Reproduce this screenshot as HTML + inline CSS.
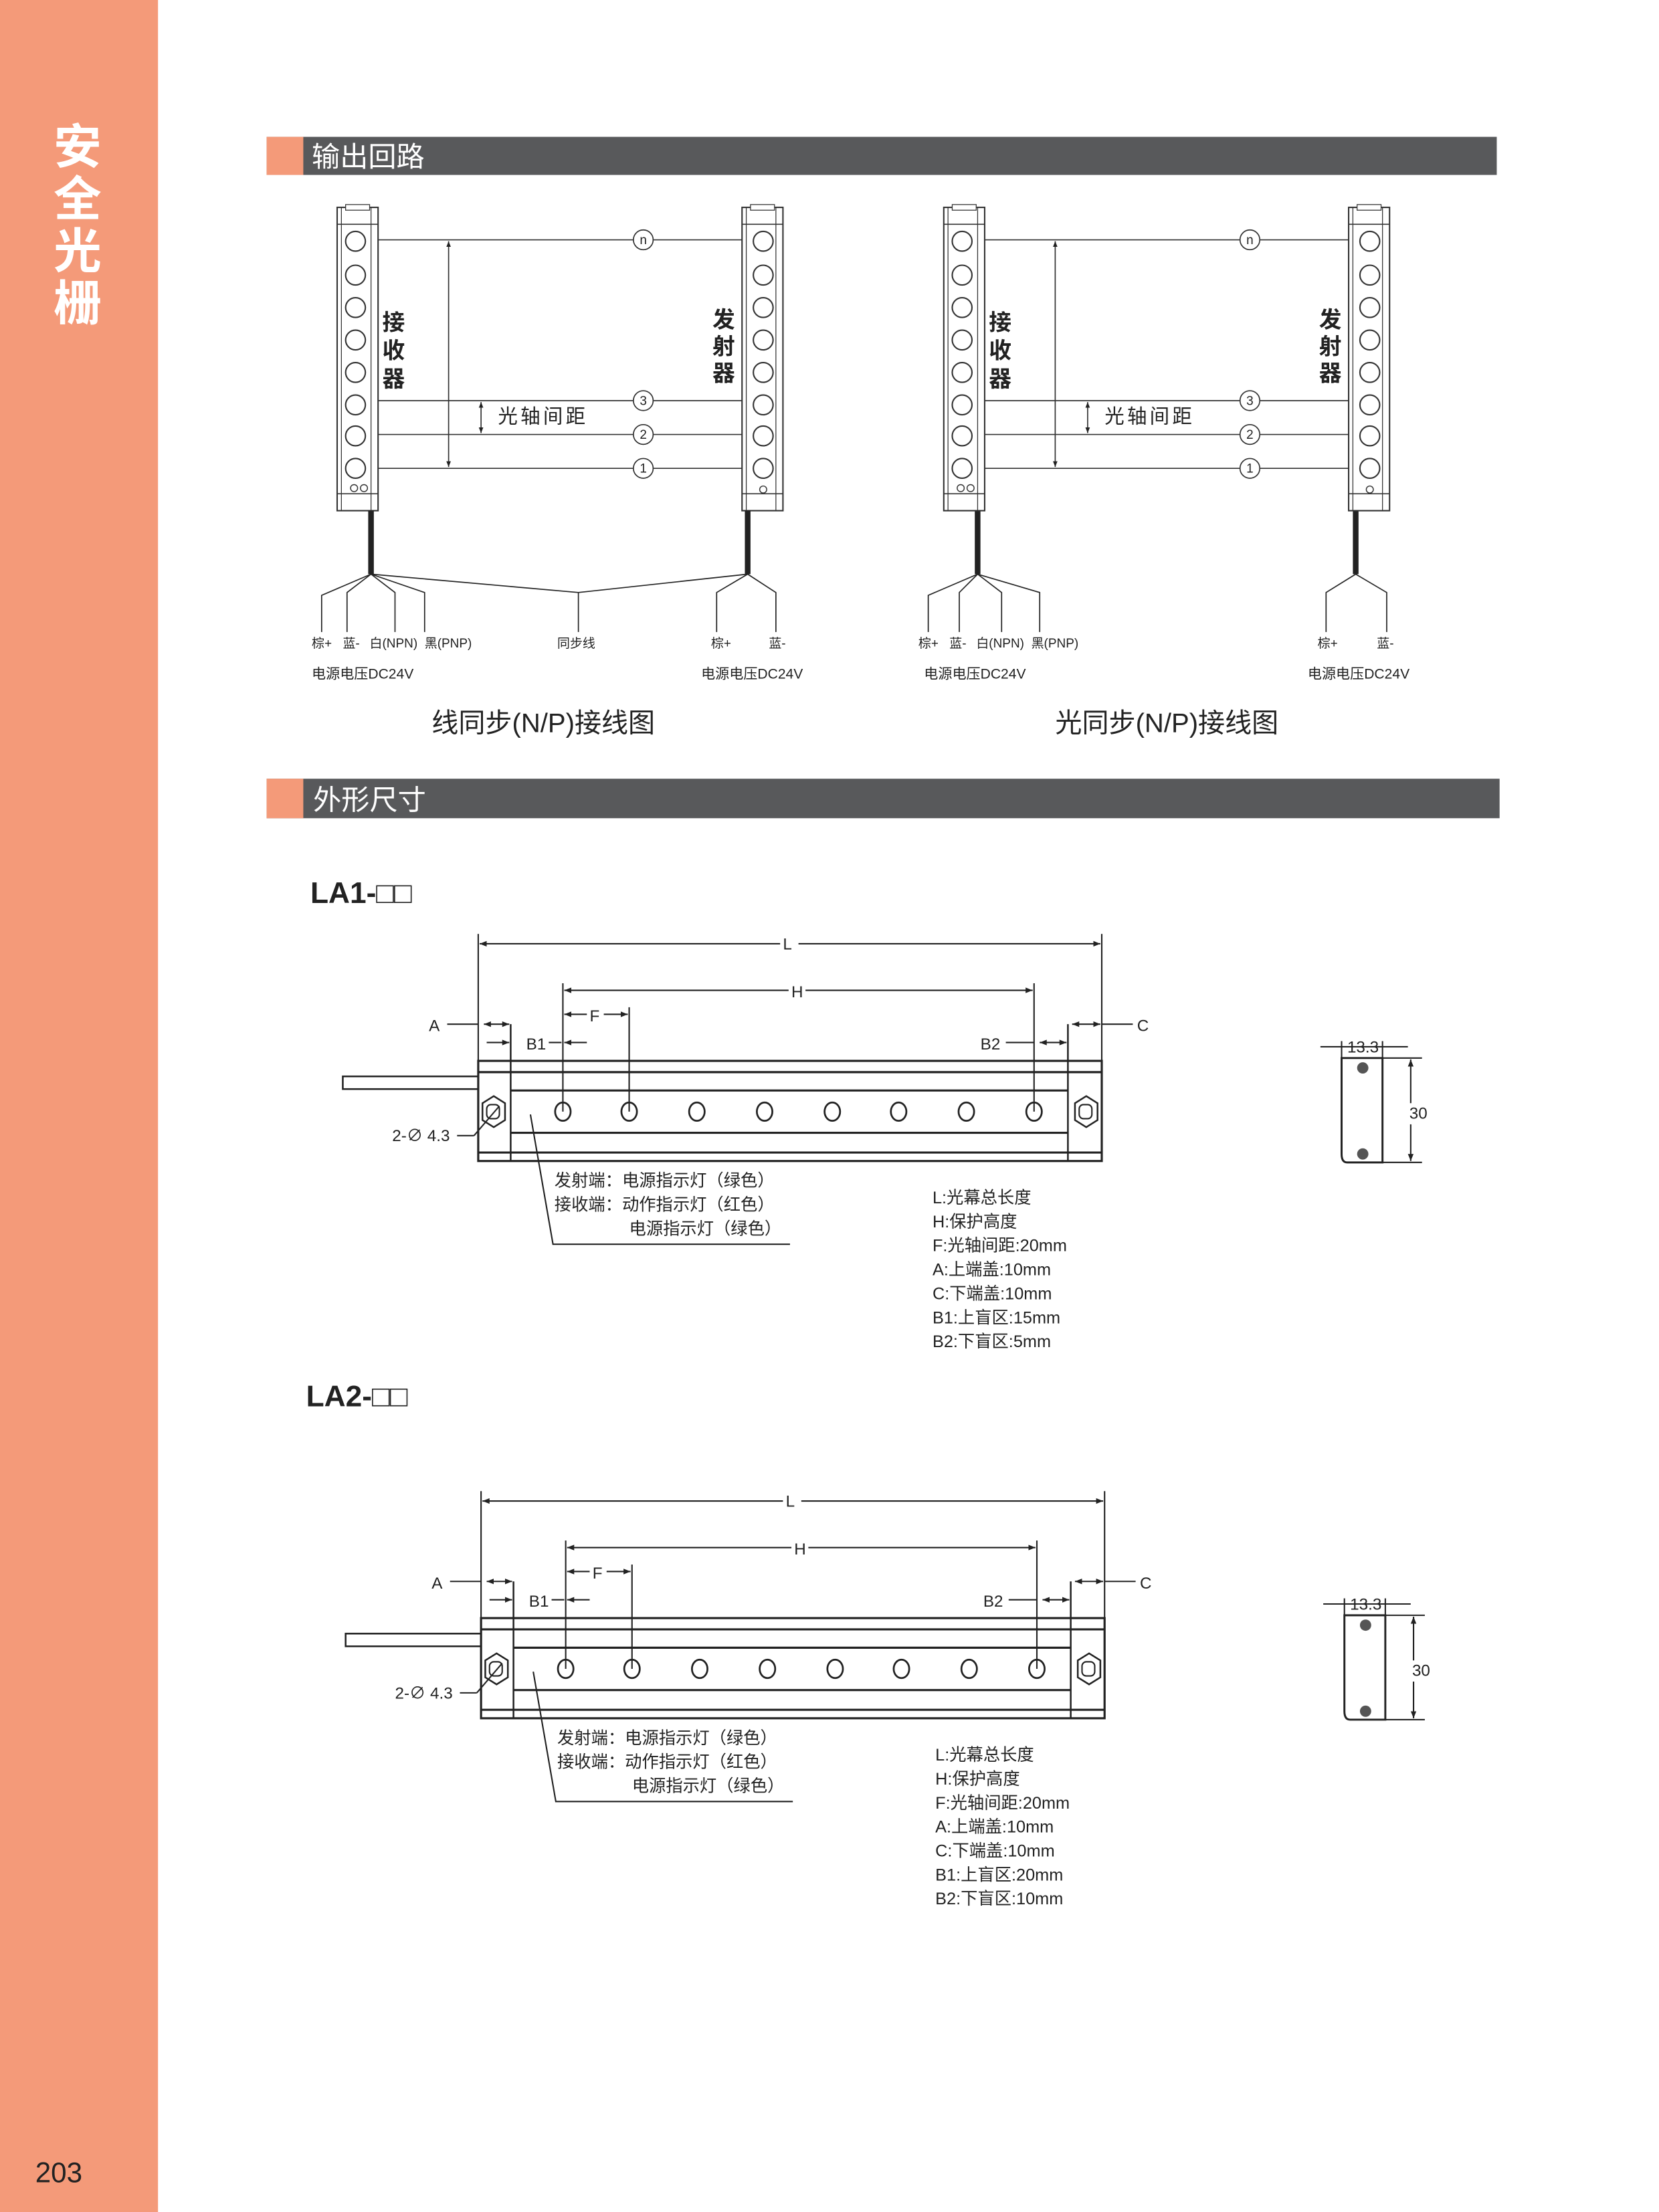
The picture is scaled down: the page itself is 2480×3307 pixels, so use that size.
<!DOCTYPE html>
<html><head><meta charset="utf-8"><style>
html,body{margin:0;padding:0;background:#fff}
svg{display:block}
text{font-family:"Liberation Sans","Noto Sans CJK SC",sans-serif;fill:#222}
</style></head><body>
<svg width="2480" height="3307" viewBox="0 0 1176 1568" preserveAspectRatio="none" xmlns="http://www.w3.org/2000/svg">
<defs>
<marker id="ar" viewBox="0 0 10 10" refX="10" refY="5" markerWidth="5" markerHeight="5" orient="auto-start-reverse"><path d="M0,1 L10,5 L0,9 z" fill="#222"/></marker>
<g id="strip">
 <rect x="0" y="0" width="29" height="215" fill="#fff" stroke="#333" stroke-width="1"/>
 <line x1="3" y1="0" x2="3" y2="215" stroke="#333" stroke-width="0.6"/>
 <line x1="24" y1="0" x2="24" y2="215" stroke="#333" stroke-width="0.6"/>
 <line x1="0" y1="12" x2="29" y2="12" stroke="#333" stroke-width="0.8"/>
 <line x1="0" y1="203" x2="29" y2="203" stroke="#333" stroke-width="0.8"/>
 <rect x="6" y="-2" width="17" height="4" fill="#fff" stroke="#333" stroke-width="0.6"/>
</g>
<g id="hole"><circle r="7" fill="#fff" stroke="#333" stroke-width="1"/></g>
<g id="dim">
 <rect x="243" y="763" width="96" height="9" fill="#fff" stroke="#222" stroke-width="1.2"/>
 <rect x="339" y="752" width="442" height="71" fill="#fff" stroke="#222" stroke-width="1.5"/>
 <line x1="339" y1="760" x2="781" y2="760" stroke="#222" stroke-width="1.5"/>
 <line x1="362" y1="773" x2="757" y2="773" stroke="#222" stroke-width="1.5"/>
 <line x1="362" y1="803" x2="757" y2="803" stroke="#222" stroke-width="1.5"/>
 <line x1="339" y1="817" x2="781" y2="817" stroke="#222" stroke-width="1.5"/>
 <line x1="362" y1="726" x2="362" y2="823" stroke="#222" stroke-width="1.2"/>
 <line x1="757" y1="726" x2="757" y2="823" stroke="#222" stroke-width="1.2"/>
 <polygon points="350,777 358,782 358,794 350,799 342,794 342,782" fill="#fff" stroke="#222" stroke-width="1.2"/>
 <rect x="345" y="783" width="9" height="10" rx="3" fill="none" stroke="#222" stroke-width="1"/>
 <polygon points="770,777 778,782 778,794 770,799 762,794 762,782" fill="#fff" stroke="#222" stroke-width="1.2"/>
 <rect x="765" y="783" width="9" height="10" rx="3" fill="none" stroke="#222" stroke-width="1"/>
 <g fill="#fff" stroke="#222" stroke-width="1.3">
 <ellipse cx="399" cy="788" rx="5.5" ry="6.5"/><ellipse cx="446" cy="788" rx="5.5" ry="6.5"/>
 <ellipse cx="494" cy="788" rx="5.5" ry="6.5"/><ellipse cx="542" cy="788" rx="5.5" ry="6.5"/>
 <ellipse cx="590" cy="788" rx="5.5" ry="6.5"/><ellipse cx="637" cy="788" rx="5.5" ry="6.5"/>
 <ellipse cx="685" cy="788" rx="5.5" ry="6.5"/><ellipse cx="733" cy="788" rx="5.5" ry="6.5"/>
 </g>
 <g stroke="#222" stroke-width="1" fill="none">
 <line x1="339" y1="662" x2="339" y2="752"/><line x1="781" y1="662" x2="781" y2="752"/>
 <line x1="399" y1="697" x2="399" y2="788"/><line x1="733" y1="697" x2="733" y2="788"/>
 <line x1="446" y1="714" x2="446" y2="788"/>
 <line x1="340" y1="669" x2="553" y2="669" marker-start="url(#ar)"/><line x1="566" y1="669" x2="780" y2="669" marker-end="url(#ar)"/>
 <line x1="400" y1="702" x2="559" y2="702" marker-start="url(#ar)"/><line x1="571" y1="702" x2="732" y2="702" marker-end="url(#ar)"/>
 <line x1="400" y1="719" x2="416" y2="719" marker-start="url(#ar)"/><line x1="428" y1="719" x2="445" y2="719" marker-end="url(#ar)"/>
 <line x1="317" y1="726" x2="339" y2="726"/><line x1="343" y1="726" x2="361" y2="726" marker-start="url(#ar)" marker-end="url(#ar)"/>
 <line x1="345" y1="739" x2="361" y2="739" marker-end="url(#ar)"/><line x1="389" y1="739" x2="398" y2="739"/><line x1="400" y1="739" x2="416" y2="739" marker-start="url(#ar)"/>
 <line x1="713" y1="739" x2="733" y2="739"/><line x1="737" y1="739" x2="756" y2="739" marker-start="url(#ar)" marker-end="url(#ar)"/>
 <line x1="760" y1="726" x2="780" y2="726" marker-start="url(#ar)" marker-end="url(#ar)"/><line x1="781" y1="726" x2="803" y2="726"/>
 <line x1="324" y1="805" x2="336" y2="805"/><line x1="336" y1="805" x2="354" y2="784"/>
 <polyline points="376,790 392,882 560,882"/>
 <path d="M951,750 L980,750 L980,824 L955,824 Q951,824 951,818 Z" stroke-width="1.4"/>
 <line x1="936" y1="742" x2="998" y2="742"/><line x1="951" y1="738" x2="951" y2="750"/><line x1="980" y1="738" x2="980" y2="750"/>
 <line x1="980" y1="750" x2="1008" y2="750"/><line x1="980" y1="824" x2="1008" y2="824"/>
 <line x1="1000" y1="751" x2="1000" y2="782" marker-start="url(#ar)"/><line x1="1000" y1="797" x2="1000" y2="823" marker-end="url(#ar)"/>
 </g>
 <circle cx="966" cy="757" r="4" fill="#555"/><circle cx="966" cy="818" r="4" fill="#555"/>
 <g font-size="11.5">
 <text x="555" y="673">L</text><text x="561" y="707">H</text><text x="418" y="724">F</text>
 <text x="304" y="731">A</text><text x="373" y="744">B1</text><text x="695" y="744">B2</text>
 <text x="806" y="731">C</text><text x="278" y="809">2-∅ 4.3</text>
 <text x="955" y="746">13.3</text><text x="999" y="793">30</text>
 </g>
 <g font-size="12">
 <text x="393" y="841">发射端：电源指示灯（绿色）</text>
 <text x="393" y="858">接收端：动作指示灯（红色）</text>
 <text x="446" y="875">电源指示灯（绿色）</text>
 </g>
</g>
</defs>

<rect x="0" y="0" width="112" height="1568" fill="#F49A79"/>
<g font-size="34" font-weight="bold">
<text x="38" y="116" style="fill:#fff">安</text><text x="38" y="153" style="fill:#fff">全</text>
<text x="38" y="190" style="fill:#fff">光</text><text x="38" y="227" style="fill:#fff">栅</text>
</g>
<text x="25" y="1547" font-size="20">203</text>

<rect x="189" y="97" width="872" height="27" fill="#58595B"/><rect x="189" y="97" width="26" height="27" fill="#F49A79"/>
<text x="221" y="118" font-size="20" style="fill:#fff">输出回路</text>
<rect x="189" y="552" width="874" height="28" fill="#58595B"/><rect x="189" y="552" width="26" height="28" fill="#F49A79"/>
<text x="222" y="574" font-size="20" style="fill:#fff">外形尺寸</text>

<g id="wd">
<use href="#strip" x="239" y="147"/>
<use href="#strip" x="526" y="147"/>
<g>
<use href="#hole" x="252" y="171"/><use href="#hole" x="252" y="195"/><use href="#hole" x="252" y="218"/><use href="#hole" x="252" y="241"/>
<use href="#hole" x="252" y="264"/><use href="#hole" x="252" y="287"/><use href="#hole" x="252" y="309"/><use href="#hole" x="252" y="332"/>
<use href="#hole" x="541" y="171"/><use href="#hole" x="541" y="195"/><use href="#hole" x="541" y="218"/><use href="#hole" x="541" y="241"/>
<use href="#hole" x="541" y="264"/><use href="#hole" x="541" y="287"/><use href="#hole" x="541" y="309"/><use href="#hole" x="541" y="332"/>
</g>
<circle cx="251" cy="346" r="2.5" fill="none" stroke="#333" stroke-width="0.7"/><circle cx="258" cy="346" r="2.5" fill="none" stroke="#333" stroke-width="0.7"/>
<circle cx="541" cy="347" r="2.5" fill="none" stroke="#333" stroke-width="0.7"/>
<g stroke="#333" stroke-width="0.8" fill="none">
<line x1="268" y1="170" x2="449" y2="170"/><line x1="463" y1="170" x2="526" y2="170"/>
<line x1="268" y1="284" x2="449" y2="284"/><line x1="463" y1="284" x2="526" y2="284"/>
<line x1="268" y1="308" x2="449" y2="308"/><line x1="463" y1="308" x2="526" y2="308"/>
<line x1="268" y1="332" x2="449" y2="332"/><line x1="463" y1="332" x2="526" y2="332"/>
<circle cx="456" cy="170" r="7"/><circle cx="456" cy="284" r="7"/><circle cx="456" cy="308" r="7"/><circle cx="456" cy="332" r="7"/>
<line x1="318" y1="171" x2="318" y2="331" marker-start="url(#ar)" marker-end="url(#ar)"/>
<line x1="341" y1="285" x2="341" y2="307" marker-start="url(#ar)" marker-end="url(#ar)"/>
</g>
<g font-size="9" text-anchor="middle"><text x="456" y="173">n</text><text x="456" y="287">3</text><text x="456" y="311">2</text><text x="456" y="335">1</text></g>
<text x="353" y="300" font-size="14" letter-spacing="2">光轴间距</text>
<g font-size="16" font-weight="bold"><text x="271" y="234">接</text><text x="271" y="254">收</text><text x="271" y="274">器</text>
<text x="505" y="232">发</text><text x="505" y="251">射</text><text x="505" y="270">器</text></g>
</g>
<g stroke="#222" fill="none">
<line x1="263" y1="362" x2="263" y2="407" stroke-width="4"/>
<line x1="530" y1="362" x2="530" y2="407" stroke-width="4"/>
<g stroke-width="0.8">
<polyline points="263,407 228,422 228,448"/><polyline points="263,407 246,420 246,448"/>
<polyline points="263,407 280,420 280,448"/><polyline points="263,407 301,420 301,448"/>
<polyline points="263,407 410,420 530,407"/><line x1="410" y1="420" x2="410" y2="448"/>
<polyline points="530,407 508,420 508,448"/><polyline points="530,407 550,420 550,448"/>
</g>
<line x1="693" y1="362" x2="693" y2="407" stroke-width="4"/>
<line x1="961" y1="362" x2="961" y2="407" stroke-width="4"/>
<g stroke-width="0.8">
<polyline points="693,407 658,422 658,448"/><polyline points="693,407 680,420 680,448"/>
<polyline points="693,407 710,420 710,448"/><polyline points="693,407 737,420 737,448"/>
<polyline points="961,407 940,420 940,448"/><polyline points="961,407 983,420 983,448"/>
</g>
</g>
<g font-size="9">
<text x="221" y="459">棕+</text><text x="243" y="459">蓝-</text><text x="262" y="459">白(NPN)</text><text x="301" y="459">黑(PNP)</text>
<text x="395" y="459">同步线</text><text x="504" y="459">棕+</text><text x="545" y="459">蓝-</text>
<text x="651" y="459">棕+</text><text x="673" y="459">蓝-</text><text x="692" y="459">白(NPN)</text><text x="731" y="459">黑(PNP)</text>
<text x="934" y="459">棕+</text><text x="976" y="459">蓝-</text>
</g>
<g font-size="10"><text x="221" y="481">电源电压DC24V</text><text x="497" y="481">电源电压DC24V</text>
<text x="655" y="481">电源电压DC24V</text><text x="927" y="481">电源电压DC24V</text></g>
<text x="306" y="519" font-size="19">线同步(N/P)接线图</text>
<text x="748" y="519" font-size="19">光同步(N/P)接线图</text>

<use href="#wd" x="430" y="0"/>

<text x="220" y="640" font-size="21" font-weight="bold">LA1-□□</text>
<use href="#dim"/>
<g font-size="12">
<text x="661" y="853">L:光幕总长度</text><text x="661" y="870">H:保护高度</text><text x="661" y="887">F:光轴间距:20mm</text>
<text x="661" y="904">A:上端盖:10mm</text><text x="661" y="921">C:下端盖:10mm</text><text x="661" y="938">B1:上盲区:15mm</text>
<text x="661" y="955">B2:下盲区:5mm</text>
</g>

<text x="217" y="997" font-size="21" font-weight="bold">LA2-□□</text>
<use href="#dim" x="2" y="395"/>
<g font-size="12">
<text x="663" y="1248">L:光幕总长度</text><text x="663" y="1265">H:保护高度</text><text x="663" y="1282">F:光轴间距:20mm</text>
<text x="663" y="1299">A:上端盖:10mm</text><text x="663" y="1316">C:下端盖:10mm</text><text x="663" y="1333">B1:上盲区:20mm</text>
<text x="663" y="1350">B2:下盲区:10mm</text>
</g>
</svg>
</body></html>
